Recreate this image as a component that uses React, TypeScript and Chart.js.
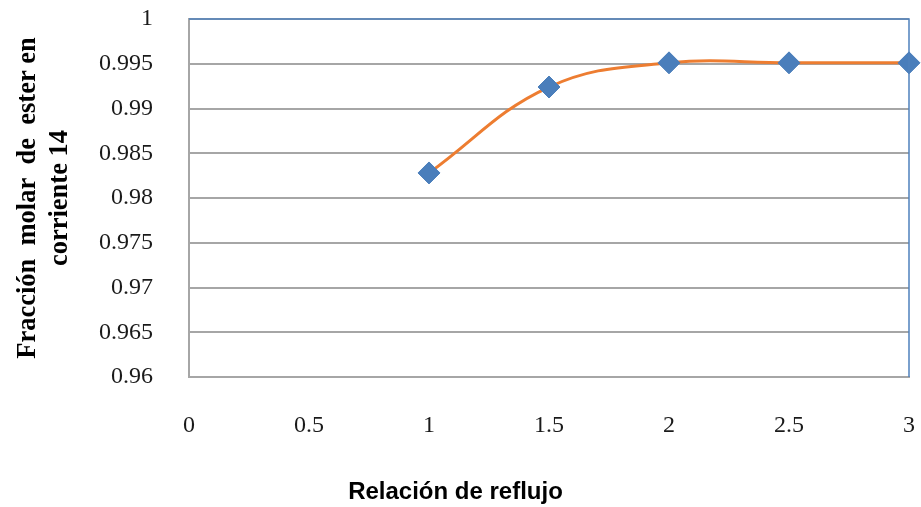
import React, { useEffect, useRef } from "react";
import { Chart, registerables } from "chart.js";

Chart.register(...registerables);

const refluxRatios = [1, 1.5, 2, 2.5, 3];
const esterFractions = [0.9828, 0.9924, 0.9951, 0.9951, 0.9951];
const xTickLabels = ["0", "0.5", "1", "1.5", "2", "2.5", "3"];
const yTickLabels = ["0.96", "0.965", "0.97", "0.975", "0.98", "0.985", "0.99", "0.995", "1"];
const xTitle = "Relación de reflujo";
const yTitle = ["Fracción  molar  de  ester en", "corriente 14"];

const SERIF = "'Liberation Serif', 'Times New Roman', serif";
const SANS = "'Liberation Sans', Arial, sans-serif";
const GRID = "#A6A6A6";
const FRAME_BLUE = "#4F81BD";

const frameTopRight = {
  id: "frameTopRight",
  afterDatasetsDraw(chart: any) {
    const { ctx, chartArea } = chart;
    ctx.save();
    ctx.strokeStyle = FRAME_BLUE;
    ctx.lineWidth = 1.5;
    ctx.beginPath();
    ctx.moveTo(chartArea.left, chartArea.top);
    ctx.lineTo(chartArea.right, chartArea.top);
    ctx.lineTo(chartArea.right, chartArea.bottom);
    ctx.stroke();
    ctx.restore();
  },
};

export default function App() {
  const canvasRef = useRef<HTMLCanvasElement | null>(null);

  useEffect(() => {
    const canvas = canvasRef.current;
    if (!canvas) return;
    const chart = new Chart(canvas, {
      type: "line",
      data: {
        datasets: [
          {
            label: "Fracción molar",
            data: refluxRatios.map((x, i) => ({ x, y: esterFractions[i] })),
            borderColor: "#ED7D31",
            borderWidth: 3,
            tension: 0.4,
            fill: false,
            pointStyle: "rectRot",
            pointRadius: 11,
            pointBackgroundColor: "#4A7EBB",
            pointBorderColor: "#4A7EBB",
            pointBorderWidth: 1,
            clip: false as any,
          },
        ],
      },
      options: {
        responsive: false,
        animation: false,
        layout: { padding: { left: 0, right: 10, top: 19, bottom: 0 } },
        plugins: {
          legend: { display: false },
          tooltip: { enabled: false },
          title: {
            display: true,
            position: "bottom",
            text: xTitle,
            color: "#000",
            font: { family: SANS, size: 24, weight: "bold" },
            padding: { top: 0, bottom: 0 },
          },
        },
        scales: {
          x: {
            type: "linear",
            position: "bottom",
            min: 0,
            max: 3,
            afterFit: (s: any) => {
              s.height = 101.2;
            },
            afterBuildTicks: (s: any) => {
              s.ticks = xTickLabels.map((t) => ({ value: Number(t) }));
            },
            ticks: {
              autoSkip: false,
              maxRotation: 0,
              padding: 0,
              color: "#1a1a1a",
              font: { family: SERIF, size: 24 },
              callback: (_v: any, i: number) => xTickLabels[i],
            },
            grid: { display: false, drawTicks: true, tickLength: 34 },
            border: { display: true, color: GRID, width: 2 },
          },
          y: {
            type: "linear",
            position: "left",
            min: 0.96,
            max: 1,
            afterFit: (s: any) => {
              s.width = 189;
            },
            afterBuildTicks: (s: any) => {
              s.ticks = yTickLabels.map((t) => ({ value: Number(t) }));
            },
            ticks: {
              autoSkip: false,
              padding: 0,
              color: "#1a1a1a",
              font: { family: SERIF, size: 24 },
              callback: (_v: any, i: number) => yTickLabels[i],
            },
            grid: {
              display: true,
              color: GRID,
              lineWidth: 2,
              drawTicks: true,
              tickLength: 36,
              tickColor: "rgba(0,0,0,0)",
            },
            border: { display: true, color: GRID, width: 2 },
            title: {
              display: true,
              text: yTitle,
              color: "#000",
              font: { family: SERIF, size: 26.5, weight: "bold", lineHeight: "32px" as any },
              padding: { top: 12, bottom: 0 },
            },
          },
        },
      } as any,
      plugins: [frameTopRight],
    });
    return () => chart.destroy();
  }, []);

  return (
    <div style={{ position: "fixed", left: 0, top: 0, width: 921, height: 507, background: "#fff" }}>
      <canvas ref={canvasRef} width={921} height={507} style={{ display: "block" }} />
    </div>
  );
}
